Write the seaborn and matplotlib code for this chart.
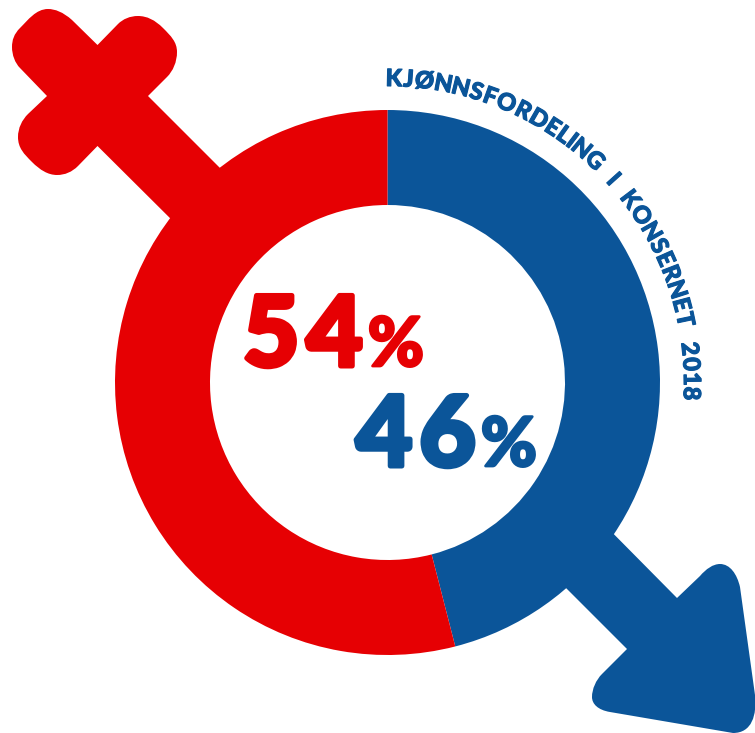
import matplotlib
matplotlib.use("Agg")
import matplotlib.pyplot as plt
from matplotlib.font_manager import FontProperties
from matplotlib.patches import PathPatch
from matplotlib.path import Path
from matplotlib.textpath import TextPath
import matplotlib.patheffects as pe
import numpy as np
import seaborn as sns

# Share of employees by gender
groups = ["Menn", "Kvinner"]
shares = [46, 54]
title = "KJØNNSFORDELING I KONSERNET 2018"

sns.set_theme(style="white")
plt.rcParams["font.family"] = ["Lato", "DejaVu Sans"]
palette = sns.color_palette(["#0B5599", "#E60003"])
blue, red = palette

W, H = 755, 733
fig = plt.figure(figsize=(W / 100, H / 100), dpi=100)
ax = fig.add_axes([0, 0, 1, 1])

CX, CY = 387.5, 733 - 382.5
R_OUT, R_IN = 272.5, 177.5


def outline(start, *segments):
    """Build a closed path from lines (1 point) and cubic curves (3 points), y measured downward."""
    verts, codes = [start], [Path.MOVETO]
    for seg in segments:
        verts.extend(seg)
        codes.extend([Path.LINETO] if len(seg) == 1 else [Path.CURVE4] * 3)
    verts.append(start)
    codes.append(Path.CLOSEPOLY)
    verts = [(x, H - y) for x, y in verts]
    return Path(verts, codes)


# Female symbol: rounded cross and shaft running into the ring
venus = outline(
    (97.5, 45),
    [(72, 20)],
    [(63, 12), (55, 9), (48, 9)],
    [(36, 9), (28, 20), (20, 28)],
    [(14, 34), (12, 40), (12, 47)],
    [(12, 55), (15, 63), (20, 68)],
    [(47, 96)],
    [(28, 114)],
    [(22, 120), (18, 128), (18, 137)],
    [(18, 148), (24, 154), (32, 162)],
    [(40, 170), (48, 175), (57, 175)],
    [(65, 175), (72, 172), (78, 166)],
    [(97.5, 146)],
    [(190, 238)],
    [(240, 188)],
    [(148, 96)],
    [(167, 77)],
    [(173, 71), (177, 62), (177, 52)],
    [(177, 42), (171, 36), (163, 28)],
    [(155, 20), (147, 16), (138, 16)],
    [(130, 16), (123, 19), (118, 24)],
)

# Male symbol: shaft and rounded arrowhead
mars = outline(
    (585, 505),
    [(677, 598)],
    [(700, 576)],
    [(706, 569), (713, 564), (720, 564)],
    [(730, 564), (737, 574), (740, 587)],
    [(755, 695)],
    [(757, 715), (752, 733), (733, 733)],
    [(610, 712)],
    [(598, 710), (592, 704), (592, 697)],
    [(592, 689), (596, 680), (602, 674)],
    [(627, 649)],
    [(540, 562)],
)

ax.add_patch(PathPatch(venus, facecolor=red, edgecolor="none", zorder=1))
ax.add_patch(PathPatch(mars, facecolor=blue, edgecolor="none", zorder=1))

# Donut, clockwise from twelve o'clock
ax.pie(
    shares,
    colors=palette,
    startangle=90,
    counterclock=False,
    center=(CX, CY),
    radius=R_OUT,
    wedgeprops={"width": R_OUT - R_IN, "linewidth": 0, "zorder": 2},
)
ax.set_xlim(0, W)
ax.set_ylim(0, H)
ax.set_aspect("auto")
ax.axis("off")


def big_value(value, x, baseline, color):
    """Heavy rounded figures: one text per digit so they can be spaced apart, then a smaller %."""
    stroke = [pe.withStroke(linewidth=3.6, foreground=color, capstyle="round", joinstyle="round")]
    thin = [pe.withStroke(linewidth=2.0, foreground=color, capstyle="round", joinstyle="round")]
    for digit in str(value):
        t = ax.text(x, H - baseline, digit, fontsize=70, fontweight="black", color=color,
                    ha="left", va="baseline", zorder=3, path_effects=stroke)
        fig.canvas.draw()
        x = t.get_window_extent().transformed(ax.transData.inverted()).x1 + 7
    ax.text(x - 2, H - baseline, "%", fontsize=49, fontweight="black", color=color,
            ha="left", va="baseline", zorder=3, path_effects=thin)


big_value(shares[1], 243, 366, red)
big_value(shares[0], 356, 466, blue)

# Title set letter by letter along an arc outside the ring
font = FontProperties(family="Lato", weight="black")
FONT_PT = 17
R_TEXT = 296.5
ARC_START, ARC_END = np.radians(-0.5), np.radians(93.5)
advance = [TextPath((0, 0), c if c != " " else "n", size=FONT_PT * 100 / 72, prop=font).get_extents().width + 3
           for c in title]
edges = np.concatenate([[0], np.cumsum(advance)])
scale = (ARC_END - ARC_START) / edges[-1]
heavy = [pe.withStroke(linewidth=0.8, foreground=blue)]
for ch, a, b in zip(title, edges[:-1], edges[1:]):
    theta = ARC_START + scale * (a + b) / 2
    ax.text(CX + R_TEXT * np.sin(theta), CY + R_TEXT * np.cos(theta), ch,
            fontsize=FONT_PT, family="Lato", fontweight="black",
            color=blue, rotation=-np.degrees(theta), rotation_mode="anchor",
            ha="center", va="baseline", zorder=3, path_effects=heavy)

fig.savefig("out.png", dpi=100, facecolor="white")
